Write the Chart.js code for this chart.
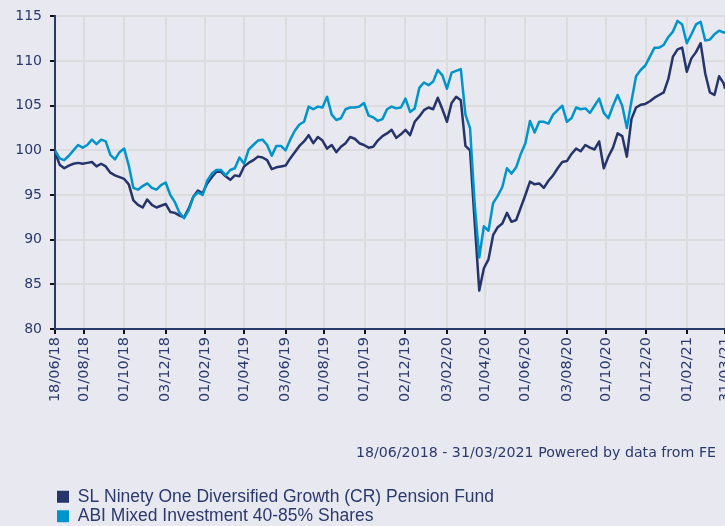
<!DOCTYPE html>
<html lang="en">
<head>
  <meta charset="UTF-8">
  <title>SL Ninety One Diversified Growth (CR) Pension Fund</title>
  <script src="https://cdn.jsdelivr.net/npm/chart.js"></script>
  <style>
    html, body { margin: 0; padding: 0; background: #e8e8f0; overflow: hidden; }
    .chart-box { position: relative; width: 725px; height: 535px; }
  </style>
</head>
<body>
  <div class="chart-box"><canvas id="perfChart"></canvas></div>

  <script>
    // Series names and footer note
    const seriesNames = [
      'SL Ninety One Diversified Growth (CR) Pension Fund',
      'ABI Mixed Investment 40-85% Shares'
    ];
    const footerNote = '18/06/2018 - 31/03/2021 Powered by data from FE';

    // x axis is days since 18/06/2018, one value a week, last one on 31/03/2021
    const stepDays = 7;
    const lastDay = 1017;
    const tickDays = [0, 44, 105, 168, 228, 287, 350, 409, 470, 532, 595, 653, 714, 777, 836, 897, 959, 1017];
    const tickLabels = ['18/06/18', '01/08/18', '01/10/18', '03/12/18', '01/02/19', '01/04/19', '03/06/19', '01/08/19',
      '01/10/19', '02/12/19', '03/02/20', '01/04/20', '01/06/20', '03/08/20', '01/10/20', '01/12/20', '01/02/21', '31/03/21'];

    // y axis
    const yMin = 80;
    const yMax = 115;
    const yStep = 5;

    // weekly values, rebased to 100
    const fundValues = [
      99.8, 98.4, 98.0, 98.3, 98.5, 98.6, 98.5, 98.6, 98.7, 98.2,
      98.5, 98.2, 97.5, 97.2, 97.0, 96.8, 96.2, 94.4, 93.9, 93.6,
      94.5, 93.9, 93.6, 93.8, 94.0, 93.1, 93.0, 92.7, 92.5, 93.5,
      94.8, 95.5, 95.2, 96.3, 97.0, 97.6, 97.6, 97.1, 96.7, 97.2,
      97.1, 98.2, 98.6, 98.9, 99.3, 99.2, 98.9, 97.9, 98.1, 98.2,
      98.3, 99.1, 99.8, 100.5, 101.0, 101.7, 100.8, 101.5, 101.1, 100.2,
      100.6, 99.8, 100.4, 100.8, 101.5, 101.3, 100.8, 100.6, 100.3, 100.4,
      101.1, 101.6, 101.9, 102.3, 101.4, 101.8, 102.3, 101.7, 103.2, 103.8,
      104.5, 104.8, 104.6, 105.9, 104.6, 103.2, 105.3, 106.0, 105.6, 100.5,
      100.0, 92.0, 84.3, 86.8, 87.8, 90.5, 91.4, 91.8, 93.0, 92.0,
      92.2, 93.6, 95.0, 96.5, 96.2, 96.3, 95.8, 96.6, 97.2, 98.0,
      98.7, 98.8, 99.6, 100.2, 99.9, 100.6, 100.3, 100.1, 101.0, 98.0,
      99.3, 100.3, 101.9, 101.6, 99.3, 103.5, 104.8, 105.1, 105.2, 105.5,
      105.9, 106.2, 106.5, 108.0, 110.5, 111.3, 111.5, 108.8, 110.3, 111.0,
      112.0, 108.6, 106.5, 106.2, 108.3, 107.5, 106.9
    ];
    const sectorValues = [
      100.0, 99.1, 98.9, 99.4, 100.0, 100.6, 100.3, 100.6, 101.2, 100.7,
      101.2, 101.0, 99.5, 99.0, 99.8, 100.2, 98.3, 95.8, 95.6, 96.0,
      96.3, 95.8, 95.6, 96.1, 96.4, 95.0, 94.2, 93.0, 92.4, 93.3,
      94.8, 95.3, 95.0, 96.6, 97.4, 97.8, 97.8, 97.2, 97.8, 98.0,
      99.2, 98.5, 100.1, 100.6, 101.1, 101.2, 100.6, 99.4, 100.5, 100.5,
      100.0, 101.2, 102.2, 102.9, 103.2, 104.9, 104.6, 104.9, 104.8, 106.0,
      104.0, 103.4, 103.6, 104.6, 104.8, 104.8, 104.9, 105.3, 103.9, 103.7,
      103.3, 103.5, 104.6, 104.9, 104.7, 104.8, 105.8, 104.3, 104.7, 107.0,
      107.6, 107.3, 107.7, 109.0, 108.4, 106.9, 108.7, 108.9, 109.1, 104.0,
      102.5, 94.0, 88.0, 91.5, 91.0, 94.1, 94.9, 95.9, 98.0, 97.4,
      98.1, 99.6, 100.8, 103.3, 102.0, 103.2, 103.2, 103.0, 104.0, 104.5,
      105.0, 103.2, 103.6, 104.8, 104.6, 104.7, 104.2, 105.0, 105.8, 104.2,
      103.6, 105.0, 106.2, 105.0, 102.5, 105.5, 108.3, 109.0, 109.5, 110.5,
      111.5, 111.5, 111.8, 112.7, 113.3, 114.5, 114.1, 112.0, 113.0, 114.1,
      114.4, 112.3, 112.4, 113.0, 113.4, 113.2, 113.2
    ];

    const navy = '#2b3a6c';
    const fundColor = '#25346b';
    const sectorColor = '#0094cc';
    const gridColor = '#dcdcdf';

    const toPoints = vals => vals.map((v, i) => ({ x: Math.min(i * stepDays, lastDay), y: v }));

    // footer note sits between the date labels and the legend
    const footerPlugin = {
      id: 'footerNote',
      afterDraw(chart) {
        const { ctx, chartArea, legend } = chart;
        ctx.save();
        ctx.font = '14.2px "DejaVu Sans"';
        ctx.fillStyle = navy;
        ctx.textAlign = 'right';
        ctx.textBaseline = 'middle';
        ctx.fillText(footerNote, chartArea.right - 9, legend.top - 33);
        ctx.restore();
      }
    };

    const ctx = document.getElementById('perfChart').getContext('2d');
    new Chart(ctx, {
      type: 'line',
      data: {
        datasets: [
          {
            label: seriesNames[1],
            data: toPoints(sectorValues),
            borderColor: sectorColor,
            backgroundColor: sectorColor,
            borderWidth: 2.5,
            pointRadius: 0,
            tension: 0,
            borderJoinStyle: 'round'
          },
          {
            label: seriesNames[0],
            data: toPoints(fundValues),
            borderColor: fundColor,
            backgroundColor: fundColor,
            borderWidth: 2.5,
            pointRadius: 0,
            tension: 0,
            borderJoinStyle: 'round'
          }
        ]
      },
      options: {
        responsive: true,
        maintainAspectRatio: false,
        animation: false,
        layout: { padding: { top: 14, left: 0, right: 0, bottom: 0 } },
        plugins: {
          tooltip: { enabled: false },
          legend: {
            position: 'bottom',
            align: 'start',
            fullSize: false,
            reverse: true,
            labels: {
              color: navy,
              font: { family: 'Liberation Sans', size: 17.5 },
              boxWidth: 12,
              boxHeight: 12,
              padding: 2,
              generateLabels: chart => Chart.defaults.plugins.legend.labels.generateLabels(chart)
                .map(item => ({ ...item, lineWidth: 0 }))
            }
          }
        },
        scales: {
          x: {
            type: 'linear',
            min: 0,
            max: lastDay,
            afterBuildTicks: s => { s.ticks = tickDays.map(v => ({ value: v })); },
            afterFit: s => { s.paddingLeft = 0; s.paddingRight = 0; s.height = 157; },
            grid: { color: gridColor, lineWidth: 2, tickLength: 5, tickColor: '#111', tickWidth: 2 },
            border: { color: navy, width: 2 },
            ticks: {
              autoSkip: false,
              minRotation: 90,
              maxRotation: 90,
              padding: 3,
              color: navy,
              font: { family: 'DejaVu Sans', size: 14.5 },
              callback: (v, i) => tickLabels[i]
            }
          },
          y: {
            min: yMin,
            max: yMax,
            afterFit: s => { s.width = 55; },
            grid: { color: gridColor, lineWidth: 2, tickLength: 5, tickColor: '#111', tickWidth: 2 },
            border: { color: navy, width: 2 },
            ticks: {
              stepSize: yStep,
              padding: 8,
              color: navy,
              font: { family: 'DejaVu Sans', size: 14 }
            }
          }
        }
      },
      plugins: [footerPlugin]
    });
  </script>
</body>
</html>
